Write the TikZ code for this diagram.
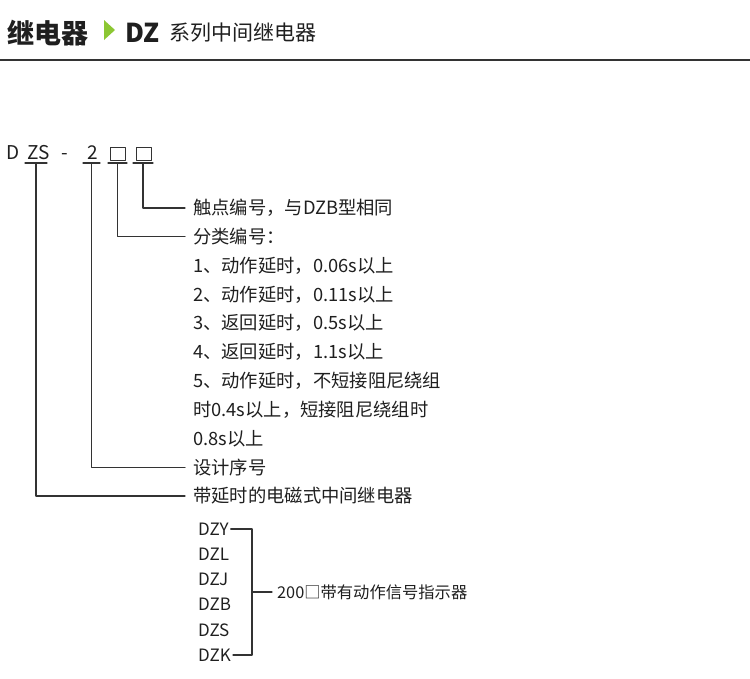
\documentclass[tikz,border=0pt]{standalone}
\usepackage{fontspec}
\setmainfont{Noto Sans CJK SC}
\definecolor{zzzzzz}{rgb}{0.12,0.12,0.12}
\definecolor{wwwwww}{rgb}{0.2,0.2,0.2}
\definecolor{ccffqq}{rgb}{0.55,0.78,0.2}
\begin{document}
\begin{tikzpicture}[line cap=round,line join=round,x=1pt,y=-1pt,
  lbl/.style={anchor=west,inner xsep=8pt,inner ysep=0pt,color=zzzzzz,font=\fontsize{18.3}{18.3}\selectfont},
  code/.style={inner sep=0pt,text height=12pt,text depth=0pt,color=zzzzzz,font=\fontsize{19}{19}\selectfont},
  sub/.style={anchor=west,inner xsep=2pt,inner ysep=0pt,color=zzzzzz,font=\fontsize{17}{17}\selectfont}]
\useasboundingbox (0,0) rectangle (750,678);
% header
\node[anchor=west,inner sep=0pt,color=zzzzzz,font=\fontsize{27}{27}\selectfont\bfseries] (head) at (7,33) {继电器};
\fill[color=ccffqq] (104,20) -- (115,30) -- (104,40) -- cycle;
\node[anchor=west,inner sep=0pt,color=zzzzzz,font=\fontsize{26}{26}\selectfont\bfseries] (dz) at (125,33) {DZ};
\node[anchor=west,inner sep=0pt,color=zzzzzz,font=\fontsize{21}{21}\selectfont] (series) at (169,33) {系列中间继电器};
\draw[color=wwwwww,line width=2.5pt,line cap=butt] (0,60) -- (750,60);
% model code
\node[code] (d) at (13.5,153) {D};
\node[code] (zs) at (38.5,153) {ZS};
\node[code] (dash) at (65,153) {-};
\node[code] (two) at (92.5,153) {2};
\node[draw=wwwwww,line width=1pt,minimum width=15pt,minimum height=13pt,inner sep=0pt] (boxa) at (117.5,154) {};
\node[draw=wwwwww,line width=1pt,minimum width=15pt,minimum height=13pt,inner sep=0pt] (boxb) at (143.5,154) {};
\foreach \n/\x/\w in {zs/36/11,two/91.5/8.5,ba/117.5/9.5,bb/143/10}
{
\coordinate (u\n) at (\x,163);
\draw[color=wwwwww,line width=1.3pt] (\x-\w,163) -- (\x+\w,163);
}
\foreach \i/\txt in {0/触点编号，与DZB型相同,1/分类编号：,2/1、动作延时，0.06s以上,3/2、动作延时，0.11s以上,4/3、返回延时，0.5s以上,5/4、返回延时，1.1s以上,6/5、动作延时，不短接阻尼绕组,7/时0.4s以上，短接阻尼绕组时,8/0.8s以上,9/设计序号,10/带延时的电磁式中间继电器}
\node[lbl] (t\i) at (185,208+28.8*\i) {\txt};
\draw[color=wwwwww,line width=1.1pt] (ubb) |- (t0.west);
\draw[color=wwwwww,line width=1.1pt] (uba) |- (t1.west);
\draw[color=wwwwww,line width=1.1pt] (utwo) |- (t9.west);
\draw[color=wwwwww,line width=1.1pt] (uzs) |- (t10.west);
% types with indicator
\foreach \i/\txt in {0/DZY,1/DZL,2/DZJ,3/DZB,4/DZS,5/DZK}
\node[sub] (m\i) at (196,529+25.2*\i) {\txt};
\coordinate (brk) at (252,592);
\node[sub,inner xsep=5pt,font=\fontsize{16.3}{16.3}\selectfont] (sig) at (272,592) {200□带有动作信号指示器};
\draw[color=wwwwww,line width=1.1pt] (m0.east) -| (brk) |- (m5.east);
\draw[color=wwwwww,line width=1.1pt] (brk) -- (sig.west);
\end{tikzpicture}
\end{document}
